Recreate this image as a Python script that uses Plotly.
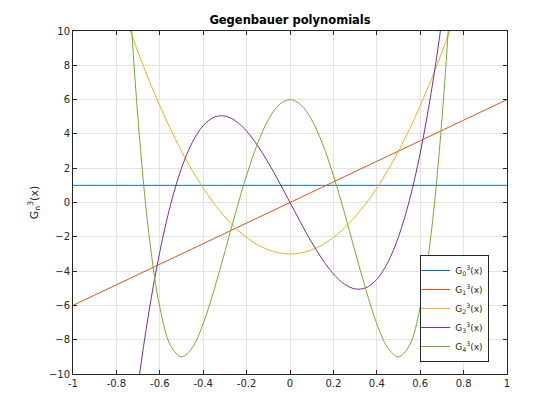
import plotly.graph_objects as go

x = [-1.0, -0.95, -0.9, -0.85, -0.8, -0.75, -0.7, -0.65, -0.6, -0.55, -0.5, -0.45, -0.4, -0.35, -0.3, -0.25, -0.2, -0.15, -0.1, -0.05,
     0.0, 0.05, 0.1, 0.15, 0.2, 0.25, 0.3, 0.35, 0.4, 0.45, 0.5, 0.55, 0.6, 0.65, 0.7, 0.75, 0.8, 0.85, 0.9, 0.95, 1.0]

g0 = [1.0] * 41
g1 = [-6.0, -5.7, -5.4, -5.1, -4.8, -4.5, -4.2, -3.9, -3.6, -3.3, -3.0, -2.7, -2.4, -2.1, -1.8, -1.5, -1.2, -0.9, -0.6, -0.3,
      0.0, 0.3, 0.6, 0.9, 1.2, 1.5, 1.8, 2.1, 2.4, 2.7, 3.0, 3.3, 3.6, 3.9, 4.2, 4.5, 4.8, 5.1, 5.4, 5.7, 6.0]
g2_half = [-3.0, -2.94, -2.76, -2.46, -2.04, -1.5, -0.84, -0.06, 0.84, 1.86, 3.0, 4.26, 5.64, 7.14, 8.76, 10.5, 12.36, 14.34, 16.44, 18.66, 21.0]
g3_half = [0.0, -1.19, -2.32, -3.33, -4.16, -4.75, -5.04, -4.97, -4.48, -3.51, -2.0, 0.11, 2.88, 6.37, 10.64, 15.75, 21.76, 28.73, 36.72, 45.79, 56.0]
g4_half = [6.0, 5.70, 4.82, 3.42, 1.58, -0.56, -2.86, -5.10, -7.06, -8.46, -9.0, -8.34, -6.10, -1.86, 4.82, 14.44, 27.50, 44.58, 66.26, 93.18, 126.0]

g2 = g2_half[::-1][:-1] + g2_half
g3 = [-v for v in g3_half[::-1][:-1]] + g3_half
g4 = g4_half[::-1][:-1] + g4_half

names = ["G<sub>0</sub><sup>3</sup>(x)", "G<sub>1</sub><sup>3</sup>(x)", "G<sub>2</sub><sup>3</sup>(x)",
         "G<sub>3</sub><sup>3</sup>(x)", "G<sub>4</sub><sup>3</sup>(x)"]
colors = ["#0072bd", "#d95319", "#edb120", "#7e2f8e", "#77ac30"]
series = [g0, g1, g2, g3, g4]

fig = go.Figure()
for n, c, s in zip(names, colors, series):
    fig.add_trace(go.Scatter(x=x, y=s, mode="lines", name=n,
                             line=dict(color=c, width=1, shape="spline", smoothing=1.0)))

axis_common = dict(showgrid=True, gridcolor="#e3e3e3", gridwidth=1, zeroline=False,
                   showline=True, linecolor="#262626", linewidth=1, mirror="ticks",
                   ticks="inside", ticklen=4, tickcolor="#262626",
                   tickfont=dict(family="DejaVu Sans", size=10, color="#262626"))

fig.update_layout(
    width=552, height=412,
    margin=dict(l=65, r=53, t=23, b=46),
    paper_bgcolor="white", plot_bgcolor="white",
    title=dict(text="<b>Gegenbauer polynomials</b>", x=0.5, xref="paper", xanchor="center",
               y=1 - 12 / 412, yanchor="middle",
               font=dict(family="DejaVu Sans", size=11.5, color="black")),
    xaxis=dict(range=[-1, 1], tickvals=[-1, -0.8, -0.6, -0.4, -0.2, 0, 0.2, 0.4, 0.6, 0.8, 1],
               ticktext=["-1", "-0.8", "-0.6", "-0.4", "-0.2", "0", "0.2", "0.4", "0.6", "0.8", "1"],
               **axis_common),
    yaxis=dict(range=[-10, 10], tickvals=list(range(-10, 11, 2)),
               title=dict(text="G<sub>n</sub><sup>3</sup>(x)", standoff=8,
                          font=dict(family="DejaVu Sans", size=11, color="#262626")),
               **axis_common),
    legend=dict(x=0.80, y=0.035, xanchor="left", yanchor="bottom",
                bordercolor="#262626", borderwidth=1, bgcolor="white",
                font=dict(family="DejaVu Sans", size=9, color="#262626"),
                itemwidth=30, tracegroupgap=0, indentation=-6),
    showlegend=True,
)

fig.write_html("out.html")
